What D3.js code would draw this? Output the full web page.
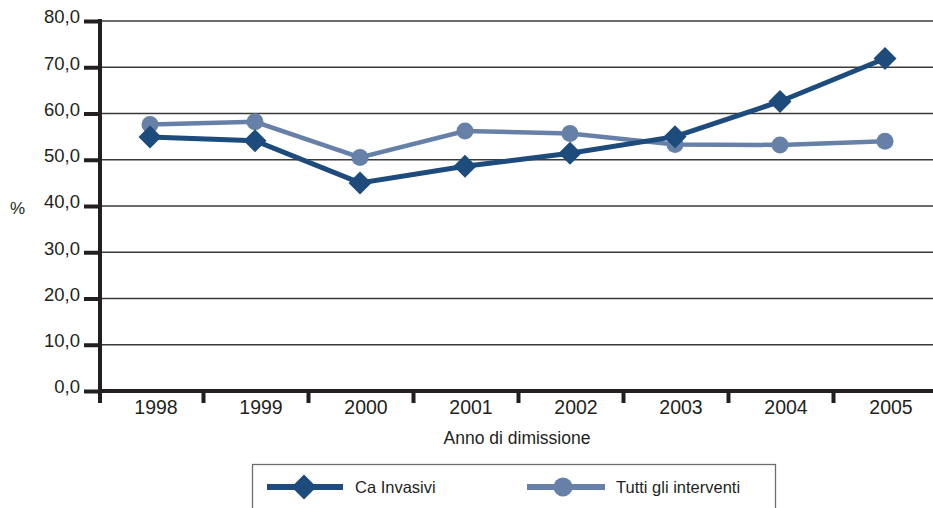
<!DOCTYPE html>
<html><head><meta charset="utf-8">
<script src="https://cdn.jsdelivr.net/npm/d3@7"></script>
<style>
html,body{margin:0;padding:0;background:#fff;}
svg{display:block;font-family:"Liberation Sans",Arial,sans-serif;}
</style></head>
<body>
<svg id="c" width="933" height="508"></svg>
<script>
const years = ["1998","1999","2000","2001","2002","2003","2004","2005"];
const caInvasivi = [54.9, 54.1, 45.0, 48.6, 51.4, 55.0, 62.6, 71.9];
const tuttiInterventi = [57.6, 58.2, 50.5, 56.2, 55.7, 53.3, 53.2, 54.0];
const yTicks = [0, 10, 20, 30, 40, 50, 60, 70, 80];
const seriesNames = ["Ca Invasivi", "Tutti gli interventi"];

const dark = "#1d4b7b", light = "#6680a8";
const svg = d3.select("#c");
const x = d3.scaleBand().domain(years).range([98.5, 938.5]);
const y = d3.scaleLinear().domain([0, 80]).range([391, 21]);
const fmt = v => v.toFixed(1).replace(".", ",");

// gridlines
svg.append("g").selectAll("line").data(yTicks.filter(d => d > 0)).join("line")
  .attr("x1", 100).attr("x2", 933).attr("y1", d => y(d)).attr("y2", d => y(d))
  .attr("stroke", "#3a3a3a").attr("stroke-width", 1.3);

// y axis
const yAxis = d3.axisLeft(y).tickValues(yTicks).tickFormat(fmt).tickSize(16).tickPadding(4);
const gy = svg.append("g").attr("transform", "translate(100,0)").call(yAxis);
gy.select(".domain").remove();
gy.selectAll(".tick line").attr("stroke", "#231f20").attr("stroke-width", 4);
gy.selectAll(".tick text").attr("font-size", 18.5).attr("fill", "#231f20")
  .attr("font-family", "Liberation Sans, Arial, sans-serif").attr("dy", "0.1em");
svg.append("line").attr("x1", 100).attr("x2", 100).attr("y1", 19).attr("y2", 403)
  .attr("stroke", "#231f20").attr("stroke-width", 4);

// x axis
svg.append("line").attr("x1", 98).attr("x2", 933).attr("y1", 391).attr("y2", 391)
  .attr("stroke", "#231f20").attr("stroke-width", 4);
svg.append("g").selectAll("line").data(years.slice(1)).join("line")
  .attr("x1", d => x(d)).attr("x2", d => x(d)).attr("y1", 391).attr("y2", 403)
  .attr("stroke", "#231f20").attr("stroke-width", 4);
svg.append("g").selectAll("text").data(years).join("text")
  .attr("x", d => x(d) + x.bandwidth() / 2 + 5).attr("y", 414)
  .attr("text-anchor", "middle").attr("font-size", 19.5).attr("fill", "#231f20").text(d => d);

svg.append("text").attr("x", 517).attr("y", 444).attr("text-anchor", "middle")
  .attr("font-size", 17.5).attr("fill", "#231f20").text("Anno di dimissione");
svg.append("text").attr("x", 10).attr("y", 214).attr("font-size", 17).attr("fill", "#231f20").text("%");

const cx = d => x(d) + x.bandwidth() / 2 - 1;
const line = d3.line().x((d, i) => cx(years[i])).y(d => y(d));

// Tutti line
svg.append("path").datum(tuttiInterventi).attr("d", line).attr("fill", "none")
  .attr("stroke", light).attr("stroke-width", 4.5);
svg.append("g").selectAll("circle").data(tuttiInterventi).join("circle")
  .attr("cx", (d, i) => cx(years[i])).attr("cy", d => y(d)).attr("r", 8.5).attr("fill", light);

// Ca line
svg.append("path").datum(caInvasivi).attr("d", line).attr("fill", "none")
  .attr("stroke", dark).attr("stroke-width", 5);
const dia = s => `M0,${-s}L${s},0L0,${s}L${-s},0Z`;
svg.append("g").selectAll("path").data(caInvasivi).join("path")
  .attr("transform", (d, i) => `translate(${cx(years[i])},${y(d)})`)
  .attr("d", dia(11.5)).attr("fill", dark);

// legend
const lg = svg.append("g");
lg.append("rect").attr("x", 252.5).attr("y", 464.5).attr("width", 523).attr("height", 60)
  .attr("fill", "none").attr("stroke", "#6d6d6d").attr("stroke-width", 1.3);
lg.append("line").attr("x1", 267).attr("x2", 343).attr("y1", 487).attr("y2", 487)
  .attr("stroke", dark).attr("stroke-width", 6);
lg.append("path").attr("transform", "translate(304,487)").attr("d", dia(12.5)).attr("fill", dark);
lg.append("text").attr("x", 355).attr("y", 493).attr("font-size", 16.5).attr("fill", "#231f20").text(seriesNames[0]);
lg.append("line").attr("x1", 527).attr("x2", 605).attr("y1", 487).attr("y2", 487)
  .attr("stroke", light).attr("stroke-width", 6);
lg.append("circle").attr("cx", 563).attr("cy", 487).attr("r", 9.5).attr("fill", light);
lg.append("text").attr("x", 616).attr("y", 493).attr("font-size", 16.5).attr("fill", "#231f20").text(seriesNames[1]);
</script>
</body></html>
